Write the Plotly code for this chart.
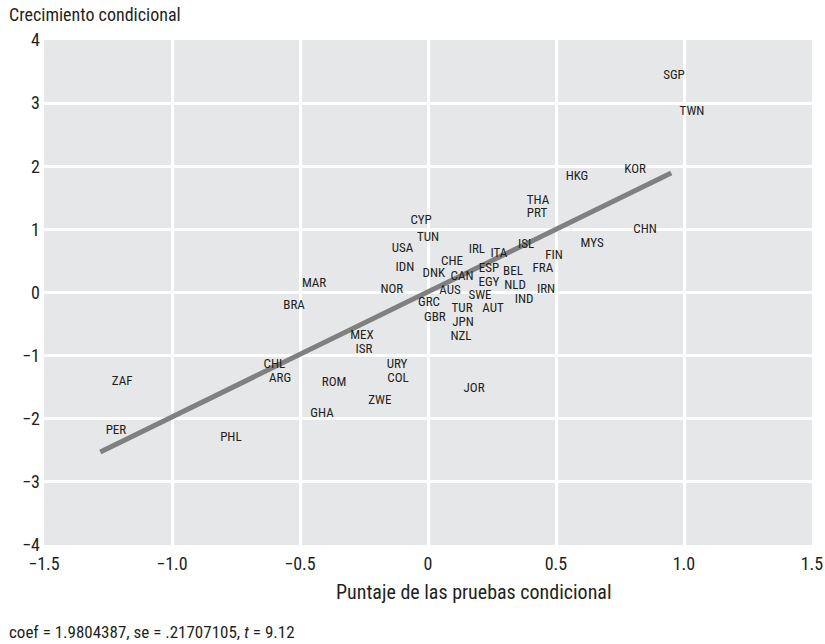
import plotly.graph_objects as go

countries = ["SGP","TWN","KOR","HKG","CHN","MYS","THA","PRT","CYP","TUN","USA","IDN",
             "IRL","ITA","ISL","FIN","FRA","CHE","DNK","CAN","ESP","BEL","EGY","NLD",
             "IRN","IND","AUS","SWE","AUT","TUR","GRC","GBR","JPN","NZL","MAR","NOR",
             "BRA","MEX","ISR","CHL","ARG","ZAF","ROM","URY","COL","ZWE","GHA","JOR",
             "PER","PHL"]
test_score = [0.961,1.031,0.809,0.582,0.848,0.641,0.430,0.426,-0.027,0.0,-0.10,-0.09,
              0.191,0.277,0.383,0.492,0.449,0.094,0.023,0.133,0.238,0.332,0.238,0.34,
              0.461,0.375,0.086,0.203,0.254,0.133,0.004,0.027,0.137,0.129,-0.445,-0.141,
              -0.523,-0.258,-0.25,-0.60,-0.578,-1.195,-0.367,-0.121,-0.117,-0.188,-0.414,0.18,
              -1.219,-0.77]
growth = [3.44,2.87,1.95,1.83,1.0,0.78,1.46,1.24,1.13,0.86,0.70,0.40,
          0.68,0.62,0.75,0.59,0.38,0.48,0.29,0.25,0.38,0.33,0.16,0.11,
          0.05,-0.11,0.03,-0.05,-0.25,-0.25,-0.17,-0.40,-0.48,-0.70,0.14,0.05,
          -0.21,-0.68,-0.90,-1.14,-1.37,-1.41,-1.43,-1.14,-1.37,-1.71,-1.92,-1.52,
          -2.19,-2.30]

coef = 1.9804387
intercept = 0.01
fit_range = [-1.28, 0.95]
fit_y = [intercept + coef * v for v in fit_range]

x_ticks = [-1.5, -1.0, -0.5, 0, 0.5, 1.0, 1.5]
x_ticktext = ["\u22121.5", "\u22121.0", "\u22120.5", "0", "0.5", "1.0", "1.5"]
y_ticks = [-4, -3, -2, -1, 0, 1, 2, 3, 4]
y_ticktext = ["\u22124", "\u22123", "\u22122", "\u22121", "0", "1", "2", "3", "4"]

FONT = "Liberation Sans Narrow, Roboto Condensed, Arial Narrow, sans-serif"
L, R, T, B = 44, 13, 40, 99
PW, PH = 825 - L - R, 644 - T - B

fig = go.Figure()
fig.add_trace(go.Scatter(x=fit_range, y=fit_y, mode="lines",
                         line=dict(color="#808080", width=5), hoverinfo="skip"))
fig.add_trace(go.Scatter(x=test_score, y=growth, mode="text", text=countries,
                         textposition="middle center",
                         textfont=dict(family=FONT, size=13, color="#231f20")))

fig.update_layout(
    template="none",
    width=825, height=644,
    margin=dict(l=L, r=R, t=T, b=B, autoexpand=False),
    paper_bgcolor="white", plot_bgcolor="#e6e7e8",
    showlegend=False,
    font=dict(family=FONT, size=18, color="#231f20"),
    xaxis=dict(range=[-1.5, 1.5], tickvals=x_ticks, ticktext=x_ticktext,
               showgrid=True, gridcolor="white", gridwidth=2.5, zeroline=False,
               ticks="", showline=False, automargin=False, ticklabelstandoff=6,
               tickfont=dict(size=18)),
    yaxis=dict(range=[-4, 4], tickvals=y_ticks, ticktext=y_ticktext,
               showgrid=True, gridcolor="white", gridwidth=2.5, zeroline=False,
               ticks="", showline=False, automargin=False, ticklabelstandoff=3,
               tickfont=dict(size=18)),
    annotations=[
        dict(text="Crecimiento condicional", xref="paper", yref="paper",
             x=-(L - 7)/PW, y=1 + 25/PH, xanchor="left", yanchor="middle",
             showarrow=False, font=dict(size=18)),
        dict(text="Puntaje de las pruebas condicional", xref="paper", yref="paper",
             x=(474 - L)/PW, y=-(592 - (644 - B))/PH, xanchor="center", yanchor="middle",
             showarrow=False, font=dict(size=20)),
        dict(text="coef = 1.9804387, se = .21707105, <i>t</i> = 9.12",
             xref="paper", yref="paper", x=-(L - 7)/PW, y=-(632 - (644 - B))/PH,
             xanchor="left", yanchor="middle", showarrow=False, font=dict(size=17)),
    ],
)

fig.write_html("out.html",
               config={"displayModeBar": False},
               post_script="document.body.style.margin='0px';document.body.style.overflow='hidden';")
